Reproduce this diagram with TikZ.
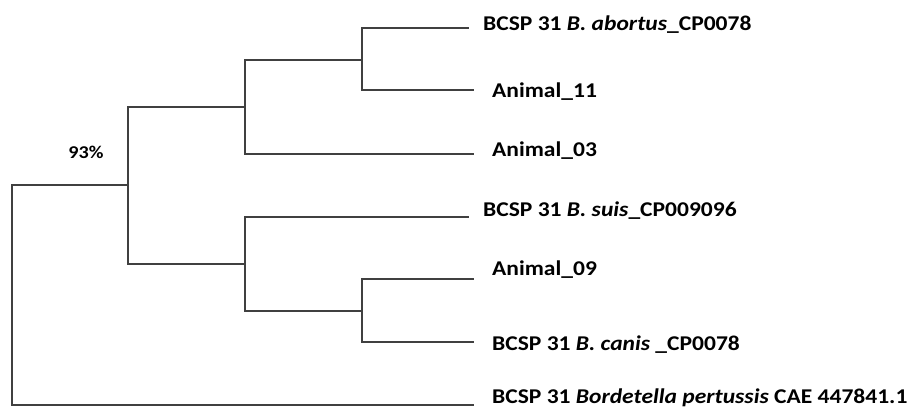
\documentclass[tikz,border=0pt]{standalone}
\usepackage{fontspec}
\setmainfont{Carlito}
\newfontfamily\labfont[FakeStretch=1.12]{Carlito}
\begin{document}
\begin{tikzpicture}[x=1pt,y=-1pt,
  branch/.style={line width=2.8pt,draw=black!75,line cap=rect},
  leaflabel/.style={anchor=west,inner sep=0pt,font=\labfont\fontsize{21}{23}\selectfont\bfseries,text=black},
  support/.style={inner sep=0pt,font=\labfont\fontsize{18}{20}\selectfont\bfseries,text=black}]
\useasboundingbox (0,0) rectangle (915,413);
% junctions
\coordinate (root) at (12,185);
\coordinate (n1) at (128,185);
\coordinate (n2) at (245,107);
\coordinate (n3) at (362,60);
\coordinate (n4) at (245,264);
\coordinate (n5) at (362,311);
% leaf ends
\coordinate (e1) at (468,28);
\coordinate (e2) at (473,90);
\coordinate (e3) at (473,154);
\coordinate (e4) at (468,217);
\coordinate (e5) at (473,279);
\coordinate (e6) at (473,342);
\coordinate (e7) at (473,405);
% branches
\draw[branch] (root) -- (n1);
\draw[branch] (root) |- (e7);
\draw[branch] (n1) |- (n2);
\draw[branch] (n1) |- (n4);
\draw[branch] (n2) |- (n3);
\draw[branch] (n2) |- (e3);
\draw[branch] (n3) |- (e1);
\draw[branch] (n3) |- (e2);
\draw[branch] (n4) |- (e4);
\draw[branch] (n4) |- (n5);
\draw[branch] (n5) |- (e5);
\draw[branch] (n5) |- (e6);
% labels
\node[leaflabel] (l1) at (483,25) {BCSP 31 \textit{B. abortus}\_CP0078};
\node[leaflabel] (l2) at (492,92) {Animal\_11};
\node[leaflabel] (l3) at (492,151) {Animal\_03};
\node[leaflabel] (l4) at (483,211) {BCSP 31 \textit{B. suis}\_CP009096};
\node[leaflabel] (l5) at (492,270) {Animal\_09};
\node[leaflabel] (l6) at (492,345) {BCSP 31 \textit{B. canis} \_CP0078};
\node[leaflabel] (l7) at (492,398) {BCSP 31 \textit{Bordetella pertussis} CAE 447841.1};
\node[support] (s1) at (86,152) {93\%};
\end{tikzpicture}
\end{document}
